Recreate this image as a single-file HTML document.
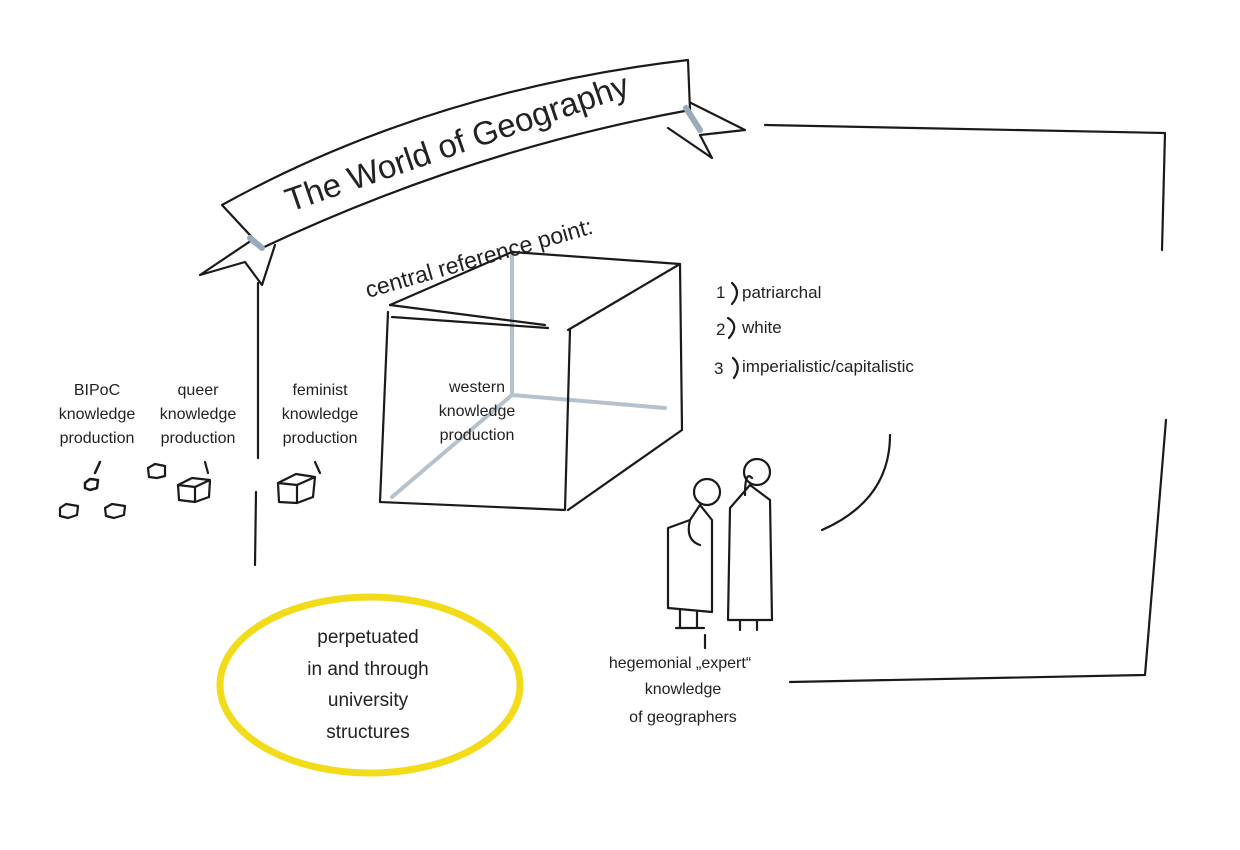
<!DOCTYPE html>
<html><head><meta charset="utf-8"><style>
html,body{margin:0;padding:0;background:#fff;}
svg{display:block}
text{font-family:"Liberation Sans",sans-serif;fill:#222;}
</style></head><body>
<svg width="1240" height="850" viewBox="0 0 1240 850" xmlns="http://www.w3.org/2000/svg">
<g fill="none" stroke="#1a1a1a" stroke-width="2.2" stroke-linecap="round" stroke-linejoin="round">
<path d="M255,238 L200,275 L245,262 L262,285 L275,245" fill="#fff"/>
<path d="M685,100 L745,130 L700,135 L712,158 L668,128" fill="#fff"/>
<path d="M222,205 Q430,90 688,60 L690,110 Q470,150 262,248 Z" fill="#fff"/>
<path d="M250,238 L262,248" stroke="#9ab" stroke-width="6"/>
<path d="M686,108 L700,130" stroke="#9ab" stroke-width="6"/>
<path d="M765,125 L1165,133 L1162,250"/>
<path d="M1166,420 L1145,675 L790,682"/>
<path d="M890,435 Q890,500 822,530"/>
<path d="M258,283 L258,458 M256,492 L255,565"/>
<path d="M512,252 L512,395 L665,408 M512,395 L392,497" stroke="#b5c2cc" stroke-width="4"/>
<path d="M390,305 L512,252 L680,264 L568,330"/>
<path d="M390,305 L545,325"/>
<path d="M388,312 L380,502 L565,510 L570,330"/>
<path d="M680,264 L682,430 L568,510"/>
<path d="M392,317 L548,328"/>
<path d="M278,483 L296,474 L315,477 L313,497 L297,503 L279,502 Z M278,483 L297,485 L315,477 M297,485 L297,503 M315,462 L320,473"/>
<path d="M178,485 L192,478 L210,480 L209,497 L195,502 L179,500 Z M178,485 L195,487 L210,480 M195,487 L195,502 M205,462 L208,473"/>
<path d="M148,468 L155,464 L165,466 L165,476 L157,478 L149,477 Z"/>
<path d="M60,508 L66,504 L78,506 L77,515 L68,518 L60,516 Z M105,508 L112,504 L125,506 L124,515 L114,518 L106,516 Z"/>
<path d="M85,483 L90,479 L98,480 L97,488 L90,490 L85,488 Z M95,473 L100,462" stroke-width="2.5"/>
<circle cx="707" cy="492" r="13"/>
<path d="M700,505 L690,520 L668,528 L668,608 L712,612 L712,520 Z M680,610 L680,628 M697,612 L697,628 M690,520 Q685,540 700,545 M676,628 L704,628"/>
<circle cx="757" cy="472" r="13"/>
<path d="M750,485 L730,508 L728,620 L772,620 L770,500 Z M740,620 L740,630 M757,620 L757,630 M745,495 Q745,470 752,478 M705,635 L705,648"/>
<path d="M732,283 Q742,292 732,304 M728,318 Q740,325 729,338 M733,358 Q742,366 734,378"/>
</g>
<ellipse cx="370" cy="685" rx="150" ry="88" fill="none" stroke="#f2dc1a" stroke-width="7"/>
<text font-size="33" transform="translate(290,212) rotate(-19)">The World of Geography</text>
<text font-size="23" transform="translate(368,298) rotate(-16)">central reference point:</text>
<g font-size="16" text-anchor="middle">
<text x="97" y="395">BIPoC</text><text x="97" y="419">knowledge</text><text x="97" y="443">production</text>
<text x="198" y="395">queer</text><text x="198" y="419">knowledge</text><text x="198" y="443">production</text>
<text x="320" y="395">feminist</text><text x="320" y="419">knowledge</text><text x="320" y="443">production</text>
<text x="477" y="392">western</text><text x="477" y="416">knowledge</text><text x="477" y="440">production</text>
<text x="680" y="668">hegemonial „expert“</text><text x="683" y="694">knowledge</text><text x="683" y="722">of geographers</text>
</g>
<g font-size="19" text-anchor="middle">
<text x="368" y="643">perpetuated</text><text x="368" y="675">in and through</text>
<text x="368" y="706">university</text><text x="368" y="738">structures</text>
</g>
<g font-size="17">
<text x="716" y="298">1</text><text x="742" y="298">patriarchal</text>
<text x="716" y="335">2</text><text x="742" y="333">white</text>
<text x="714" y="374">3</text><text x="742" y="372">imperialistic/capitalistic</text>
</g>
</svg>
</body></html>
